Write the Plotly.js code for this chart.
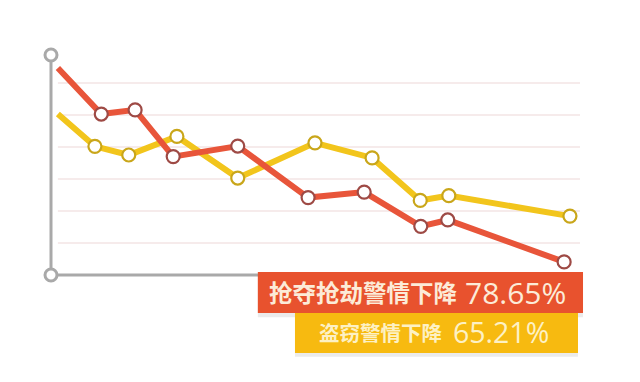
<!DOCTYPE html>
<html>
<head>
<meta charset="utf-8">
<script src="https://cdn.plot.ly/plotly-3.0.1.min.js"></script>
<style>
  html, body { margin: 0; padding: 0; background: #ffffff; }
  #chart { width: 640px; height: 382px; }
</style>
</head>
<body>
<div id="chart"></div>
<script>
// Robbery / snatching alert series (red)
const robberyX = [1.3, 9.5, 15.9, 23.1, 35.3, 48.6, 59.2, 69.9, 75.0, 97.0];
const robberyY = [6.47, 5.03, 5.16, 3.70, 4.03, 2.42, 2.59, 1.52, 1.72, 0.41];
// Theft alert series (yellow)
const theftX = [1.3, 8.3, 14.7, 23.8, 35.3, 49.9, 60.7, 69.8, 75.2, 98.1];
const theftY = [5.03, 4.02, 3.75, 4.33, 3.03, 4.13, 3.66, 2.33, 2.48, 1.84];
// Label texts
const robberyLabel = "抢夺抢劫警情下降";
const robberyPct = "78.65%";
const theftLabel = "盗窃警情下降";
const theftPct = "65.21%";
const gridLevels = [1, 2, 3, 4, 5, 6];

const RED = "#E8553A";
const YEL = "#F2C51C";
const markerSizes = robberyX.map((_, i) => i === 0 ? 0 : 13);

const traces = [
  {
    x: theftX, y: theftY, type: "scatter", mode: "lines+markers",
    line: { color: YEL, width: 6 },
    marker: { size: markerSizes, color: "#ffffff", opacity: 1, line: { color: "#C9A61A", width: 2.2 } },
    cliponaxis: false, hoverinfo: "skip"
  },
  {
    x: robberyX, y: robberyY, type: "scatter", mode: "lines+markers",
    line: { color: RED, width: 6 },
    marker: { size: markerSizes, color: "#ffffff", opacity: 1, line: { color: "#9E4A45", width: 2.2 } },
    cliponaxis: false, hoverinfo: "skip"
  }
];

const shapes = [];
gridLevels.forEach(g => shapes.push({
  type: "line", xref: "paper", yref: "y", x0: 0.013, x1: 1, y0: g, y1: g,
  line: { color: "#F3E4E4", width: 1.5 }, layer: "below"
}));
// axes
shapes.push({ type: "line", xref: "paper", yref: "paper", x0: 0, x1: 0, y0: 0, y1: 1,
  line: { color: "#A9A9A9", width: 3 }, layer: "below" });
shapes.push({ type: "line", xref: "paper", yref: "paper", x0: 0, x1: 0.45, y0: 0, y1: 0,
  line: { color: "#A9A9A9", width: 3 }, layer: "below" });
// box shadows
shapes.push({ type: "rect", xref: "paper", yref: "paper", x0: 0.391, x1: 1.0057, y0: -0.192, y1: 0.0,
  fillcolor: "rgba(0,0,0,0.08)", line: { width: 0 }, layer: "above" });
shapes.push({ type: "rect", xref: "paper", yref: "paper", x0: 0.4612, x1: 0.9962, y0: -0.372, y1: -0.18,
  fillcolor: "rgba(0,0,0,0.08)", line: { width: 0 }, layer: "above" });
// label boxes
shapes.push({ type: "rect", xref: "paper", yref: "paper", x0: 0.4612, x1: 0.9962, y0: -0.3545, y1: -0.1727,
  fillcolor: "#F7BA10", line: { width: 0 }, layer: "above" });
shapes.push({ type: "rect", xref: "paper", yref: "paper", x0: 0.391, x1: 1.0057, y0: -0.1727, y1: 0.0136,
  fillcolor: "#E8522E", line: { width: 0 }, layer: "above" });

const cjk = "'Noto Sans CJK SC', sans-serif";
const num = "'Open Sans', Roboto, sans-serif";
const annotations = [
  { xref: "paper", yref: "paper", x: 0.774, y: -0.0795, xanchor: "right", yanchor: "middle",
    text: "<b>" + robberyLabel + "</b>", showarrow: false,
    font: { family: cjk, size: 23.5, color: "#FCEBD8" } },
  { xref: "paper", yref: "paper", x: 0.779, y: -0.078, xanchor: "left", yanchor: "middle",
    text: robberyPct, showarrow: false,
    font: { family: num, size: 30, color: "#FCEBD8" } },
  { xref: "paper", yref: "paper", x: 0.745, y: -0.261, xanchor: "right", yanchor: "middle",
    text: "<b>" + theftLabel + "</b>", showarrow: false,
    font: { family: cjk, size: 20.5, color: "#FDF1C4" } },
  { xref: "paper", yref: "paper", x: 0.757, y: -0.259, xanchor: "left", yanchor: "middle",
    text: theftPct, showarrow: false,
    font: { family: num, size: 28.5, color: "#FDF1C4" } }
];

const layout = {
  width: 640, height: 382,
  margin: { l: 51, r: 60, t: 55, b: 107 },
  paper_bgcolor: "#ffffff", plot_bgcolor: "#ffffff",
  showlegend: false,
  xaxis: { range: [0, 100], showgrid: false, zeroline: false, showline: false, showticklabels: false, ticks: "" },
  yaxis: { range: [0, 6.875], showgrid: false, zeroline: false, showline: false, showticklabels: false, ticks: "" },
  shapes: shapes,
  annotations: annotations
};

// axis end circles
traces.push({
  x: [0, 0], y: [0, 6.875], type: "scatter", mode: "markers", cliponaxis: false,
  marker: { size: 12, color: "#ffffff", line: { color: "#A9A9A9", width: 3 } }, hoverinfo: "skip"
});

Plotly.newPlot("chart", traces, layout, { displayModeBar: false, staticPlot: true });
</script>
</body>
</html>
